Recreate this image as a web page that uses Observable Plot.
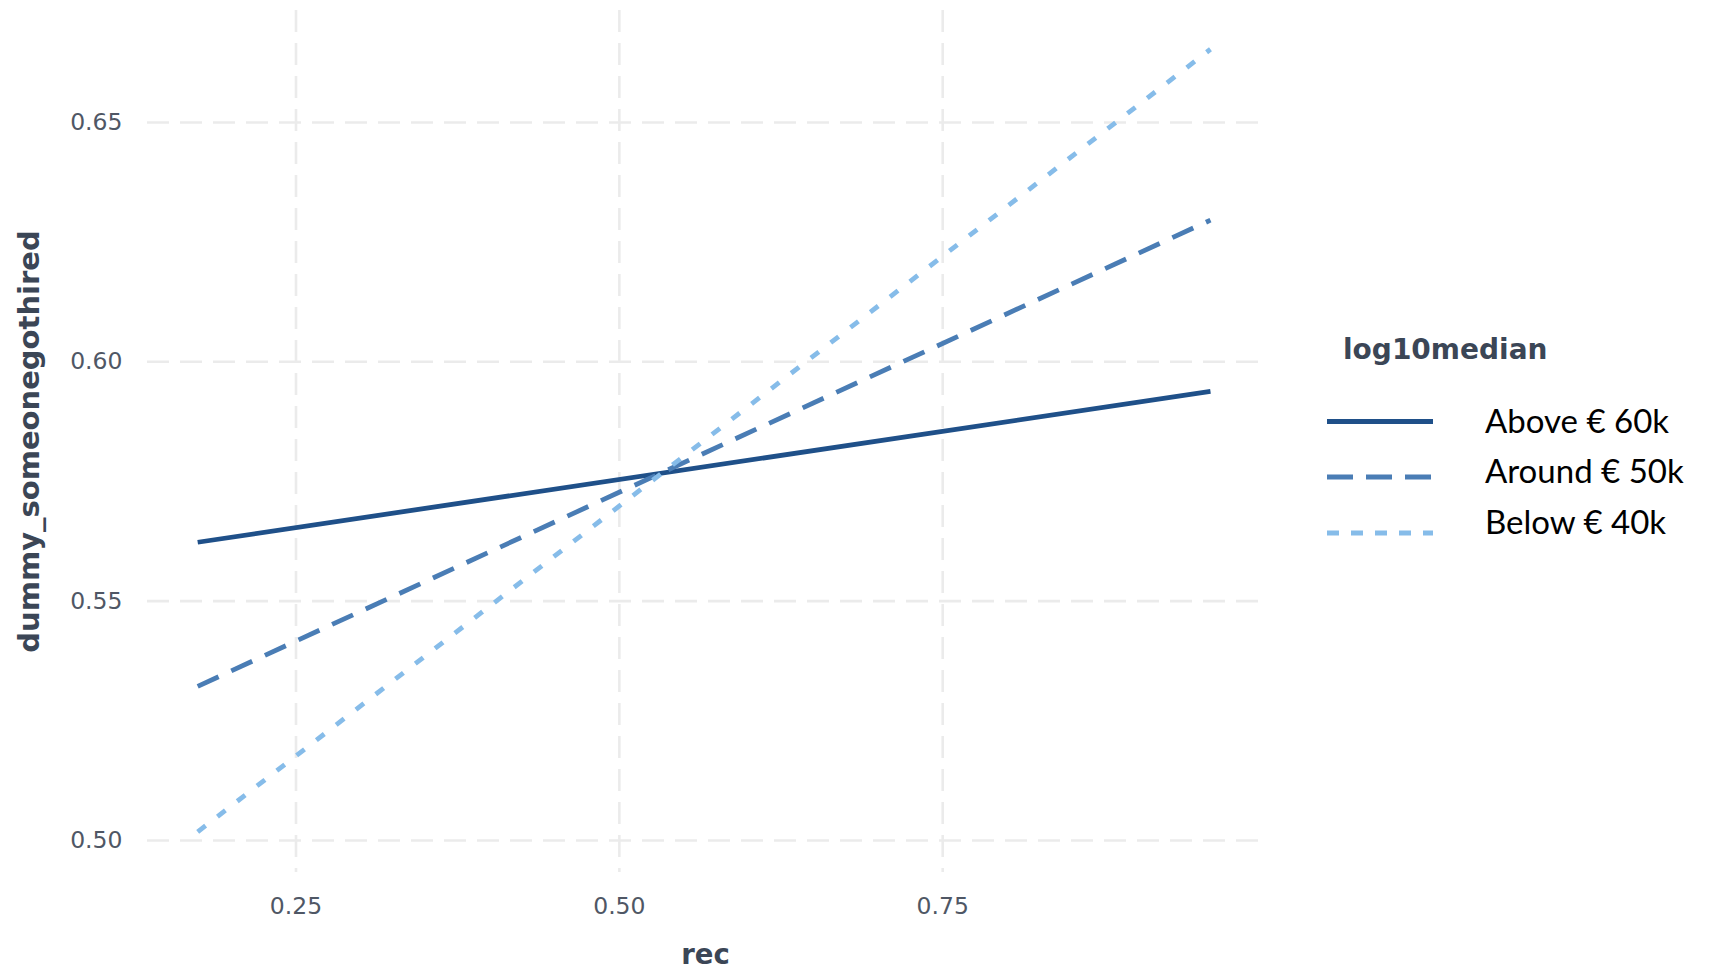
<!DOCTYPE html>
<html>
<head>
<meta charset="utf-8">
<script src="https://cdn.jsdelivr.net/npm/d3@7"></script>
<script src="https://cdn.jsdelivr.net/npm/@observablehq/plot@0.6"></script>
<style>
  html, body { margin: 0; padding: 0; background: #ffffff; overflow: hidden; }
  #wrap { position: relative; width: 1710px; height: 969px; }
  #wrap svg.plot { position: absolute; left: 0; top: 0; }
  #legend { position: absolute; left: 0; top: 0; pointer-events: none; }
</style>
</head>
<body>
<div id="wrap"></div>
<script>
// ---- data ----
const xVals = [0.174, 0.957];
const seriesNames = ["Above € 60k", "Around € 50k", "Below € 40k"];
const aboveY = [0.5623, 0.5938];
const aroundY = [0.5322, 0.6296];
const belowY = [0.5018, 0.6653];
const xTicks = [0.25, 0.50, 0.75];
const xTickLabels = ["0.25", "0.50", "0.75"];
const yTicks = [0.50, 0.55, 0.60, 0.65];
const yTickLabels = ["0.50", "0.55", "0.60", "0.65"];
const xTitle = "rec";
const yTitle = "dummy_someonegothired";
const legendTitle = "log10median";

// ---- styles ----
const seriesColors = ["#1f5089", "#4a7db5", "#86bce9"];
const seriesDash = [null, "23,14", "10,15"];
const gridStyle = {stroke: "#ebebeb", strokeWidth: 2.6, strokeDasharray: "22,11"};
const tickColor = "#4f5765";
const titleColor = "#3b4656";

const seriesY = [aboveY, aroundY, belowY];
const rows = seriesNames.flatMap((name, s) =>
  xVals.map((x, i) => ({x, y: seriesY[s][i], series: name}))
);

const lineMarks = seriesNames.map((name, s) =>
  Plot.line(rows.filter(r => r.series === name), {
    x: "x", y: "y",
    stroke: seriesColors[s],
    strokeWidth: 4.8,
    strokeDasharray: seriesDash[s] || undefined,
    strokeLinecap: "butt"
  })
);

const chart = Plot.plot({
  width: 1710,
  height: 969,
  marginLeft: 147,
  marginRight: 447,
  marginTop: 10,
  marginBottom: 97,
  style: {fontFamily: "DejaVu Sans", background: "transparent"},
  x: {domain: [0.1352, 0.998]},
  y: {domain: [0.4933, 0.6734]},
  marks: [
    Plot.ruleY(yTicks, gridStyle),
    Plot.ruleX(xTicks, gridStyle),
    ...lineMarks,
    Plot.axisX({
      ticks: xTicks,
      tickFormat: d => xTickLabels[xTicks.indexOf(d)],
      tickSize: 0, tickPadding: 25,
      fontSize: 23.5, color: tickColor, label: null
    }),
    Plot.axisY({
      ticks: yTicks,
      tickFormat: d => yTickLabels[yTicks.indexOf(d)],
      tickSize: 0, tickPadding: 25,
      fontSize: 23.5, color: tickColor, label: null
    }),
    Plot.text([xTitle], {
      text: d => d, frameAnchor: "bottom", dy: 83, lineAnchor: "middle",
      fontSize: 27.5, fontWeight: "bold", fill: titleColor
    }),
    Plot.text([yTitle], {
      text: d => d, frameAnchor: "left", dx: -118, rotate: -90,
      textAnchor: "middle", lineAnchor: "middle",
      fontSize: 29, fontWeight: "bold", fill: titleColor
    })
  ]
});
chart.classList.add("plot");
document.getElementById("wrap").appendChild(chart);

// ---- legend (drawn with d3 as an overlay) ----
const keyRowsY = [421.5, 477, 533];
const labelBaselines = [433, 483, 534];
const lg = d3.select("#wrap").append("svg")
  .attr("id", "legend").attr("width", 1710).attr("height", 969);
lg.append("text")
  .attr("x", 1343).attr("y", 359)
  .attr("font-family", "DejaVu Sans").attr("font-weight", "bold")
  .attr("font-size", 28).attr("fill", titleColor)
  .text(legendTitle);
lg.append("defs").append("clipPath").attr("id", "keyclip")
  .append("rect").attr("x", 1327).attr("y", 380).attr("width", 106).attr("height", 200);
seriesNames.forEach((name, s) => {
  lg.append("line")
    .attr("x1", 1327).attr("x2", 1445)
    .attr("y1", keyRowsY[s]).attr("y2", keyRowsY[s])
    .attr("clip-path", "url(#keyclip)")
    .attr("stroke", seriesColors[s]).attr("stroke-width", 5)
    .attr("stroke-dasharray", s === 0 ? null : (s === 1 ? "26,13" : "12,12"));
  lg.append("text")
    .attr("x", 1485).attr("y", labelBaselines[s])
    .attr("font-family", "Lato").attr("font-size", 33).attr("fill", "#000000")
    .text(name);
});
</script>
</body>
</html>
